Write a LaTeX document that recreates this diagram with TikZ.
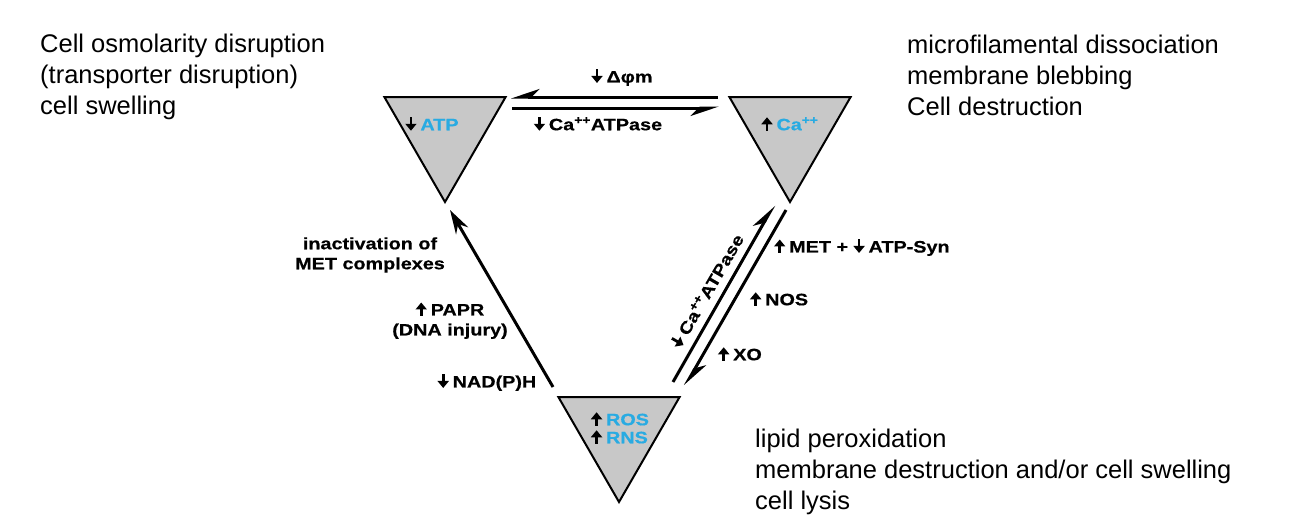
\documentclass[tikz,border=0pt]{standalone}
\usepackage{fontspec}
\setmainfont{Liberation Sans}
\newfontfamily\lblfont[FakeStretch=1.2, BoldFeatures={FakeBold=0.6}]{Liberation Sans}
\usetikzlibrary{arrows.meta,shapes.geometric}
\definecolor{lblue}{RGB}{41,171,226}
\definecolor{tgray}{RGB}{200,200,200}
\newcommand\upa{\tikz[baseline=0pt,x=1pt,y=1pt]\draw[line width=2.8pt,-{Triangle[length=7pt,width=11pt]}] (0,-0.5) -- (0,13);\hspace{4pt}}
\newcommand\dna{\tikz[baseline=0pt,x=1pt,y=1pt]\draw[line width=2.8pt,-{Triangle[length=7pt,width=11pt]}] (0,13) -- (0,-0.5);\hspace{4pt}}
\begin{document}
\begin{tikzpicture}[x=1pt,y=-1pt,
  tri/.style={regular polygon, regular polygon sides=3, shape border rotate=180,
    minimum size=140pt, inner sep=0pt, draw=black, fill=tgray, line width=2pt},
  lbl/.style={font=\lblfont\bfseries\fontsize{16.5}{20}\selectfont, inner sep=0pt, align=center},
  corner/.style={font=\fontsize{25.5}{31}\selectfont, inner sep=0pt, anchor=base west},
  conn/.style={line width=3pt},
  harpL/.style={conn, -{Stealth[harpoon, length=24pt, width=16pt]}},
  harpR/.style={conn, -{Stealth[harpoon, swap, length=24pt, width=16pt]}},
  full/.style={conn, -{Stealth[length=24pt, width=14pt]}}]
\useasboundingbox (0,0) rectangle (1300,530);

% triangles
\node[tri] (atp) at (445,132) {};
\node[tri] (ca) at (790,132) {};
\node[tri] (ros) at (619,432) {};
\node[lbl] (atplbl) at (432,124) {\dna\textcolor{lblue}{ATP}};
\node[lbl] (calbl) at (790,124) {\upa\textcolor{lblue}{Ca\textsuperscript{++}}};
\node[lbl, align=left] (roslbl) at (620,428) {\upa\textcolor{lblue}{ROS}\\[-2pt]\upa\textcolor{lblue}{RNS}};

% arrow end points
\coordinate (h1s) at (718,97);
\coordinate (h1e) at (511,97);
\coordinate (h2s) at (512,108);
\coordinate (h2e) at (719,108);
\coordinate (d1s) at (673,382);
\coordinate (d1e) at (774,205);
\coordinate (d2s) at (786,210);
\coordinate (d2e) at (685,386);
\coordinate (ls) at (553,387);
\coordinate (le) at (450,210);

\draw[harpR] (h1s) -- (h1e);
\draw[harpR] (h2s) -- (h2e);
\draw[harpL] (d1s) -- (d1e);
\draw[harpL] (d2s) -- (d2e);
\draw[full] (ls) -- (le);

% arrow labels
\node[lbl] (dphi) at (622,77) {\dna Δφm};
\node[lbl] (caatp) at (598,124) {\dna Ca\textsuperscript{++}ATPase};
\node[lbl] (inact) at (370,255) {inactivation of\\MET complexes};
\node[lbl] (papr) at (450,320) {\upa PAPR\\(DNA injury)};
\node[lbl] (nadph) at (487,382) {\dna NAD(P)H};
\node[lbl, anchor=west] (met) at (774,247) {\upa MET + \dna ATP-Syn};
\node[lbl, anchor=west] (nos) at (750,299) {\upa NOS};
\node[lbl, anchor=west] (xo) at (718,354) {\upa XO};
\node[lbl, rotate=60] (caatp2) at (707,291) {\dna Ca\textsuperscript{++}ATPase};

% corner texts
\node[corner] (tl) at (40,52) {\begin{tabular}[t]{@{}l@{}}Cell osmolarity disruption\\(transporter disruption)\\cell swelling\end{tabular}};
\node[corner] (tr) at (907,53) {\begin{tabular}[t]{@{}l@{}}microfilamental dissociation\\membrane blebbing\\Cell destruction\end{tabular}};
\node[corner] (br) at (755,447) {\begin{tabular}[t]{@{}l@{}}lipid peroxidation\\membrane destruction and/or cell swelling\\cell lysis\end{tabular}};
\end{tikzpicture}
\end{document}
